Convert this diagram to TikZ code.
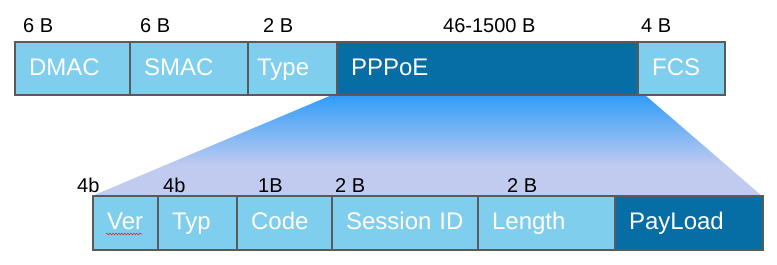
\documentclass[tikz,border=0pt]{standalone}
\usepackage{fontspec}
\setmainfont{Liberation Sans}
\usetikzlibrary{decorations.pathmorphing}
\definecolor{lightfld}{HTML}{7FCEEE}
\definecolor{darkfld}{HTML}{066DA5}
\definecolor{bordergray}{HTML}{5A5A5A}
\definecolor{gradtop}{HTML}{2D9CF9}
\definecolor{gradbot}{HTML}{C1CBF0}
\definecolor{spellred}{HTML}{D03A3A}
\begin{document}
\begin{tikzpicture}[x=1pt,y=-1pt,
  fld/.style={draw=bordergray, line width=2.2pt, inner xsep=14pt, inner ysep=0pt,
    text height=18pt, text depth=5pt,
    anchor=west, align=left, text=white, font=\fontsize{24pt}{28pt}\selectfont},
  lt/.style={fld, fill=lightfld},
  dk/.style={fld, fill=darkfld},
  sz/.style={anchor=base west, inner sep=0pt, font=\fontsize{20pt}{24pt}\selectfont, text=black}]
\useasboundingbox (0,0) rectangle (777,265);
% expansion trapezoid
\begin{scope}
  \clip (332,95) -- (645,95) -- (762,196) -- (92,196) -- cycle;
  \shade[top color=gradtop, bottom color=gradbot] (80,94) rectangle (770,166);
  \fill[gradbot] (80,165) rectangle (770,197);
\end{scope}
% top row
\node[lt, minimum width=115pt, minimum height=53pt, text width=87pt] (dmac) at (14,68.5) {DMAC};
\node[lt, minimum width=118pt, minimum height=53pt, text width=90pt] (smac) at (129,68.5) {SMAC};
\node[lt, minimum width=89pt, minimum height=53pt, inner xsep=9pt, text width=71pt] (type) at (247,68.5) {Type};
\node[dk, minimum width=301pt, minimum height=53pt, text width=273pt] (pppoe) at (336,68.5) {PPPoE};
\node[lt, minimum width=87pt, minimum height=53pt, text width=59pt] (fcs) at (637,68.5) {FCS};
% top sizes
\node[sz] (s1) at (23,32) {6 B};
\node[sz] (s2) at (140,32) {6 B};
\node[sz] (s3) at (263,32) {2 B};
\node[sz] (s4) at (443,32) {46-1500 B};
\node[sz] (s5) at (641,32) {4 B};
% bottom row
\node[lt, minimum width=65pt, minimum height=54pt, text width=37pt] (ver) at (92,223) {Ver};
\node[lt, minimum width=79pt, minimum height=54pt, text width=51pt] (typ) at (157,223) {Typ};
\node[lt, minimum width=95pt, minimum height=54pt, text width=67pt] (code) at (236,223) {Code};
\node[lt, minimum width=146pt, minimum height=54pt, text width=118pt] (sid) at (331,223) {Session ID};
\node[lt, minimum width=137pt, minimum height=54pt, text width=109pt] (len) at (477,223) {Length};
\node[dk, minimum width=148pt, minimum height=54pt, text width=120pt] (pay) at (614,223) {PayLoad};
% bottom sizes
\node[sz] (b1) at (77,192) {4b};
\node[sz] (b2) at (163,192) {4b};
\node[sz] (b3) at (258,192) {1B};
\node[sz] (b4) at (335,192) {2 B};
\node[sz] (b5) at (507,192) {2 B};
% spell-check underline
\coordinate (w1) at (106,234);
\coordinate (w2) at (142,234);
\draw[spellred, line width=0.7pt, decorate, decoration={snake, amplitude=0.8pt, segment length=3pt}] (w1) -- (w2);
\end{tikzpicture}
\end{document}
